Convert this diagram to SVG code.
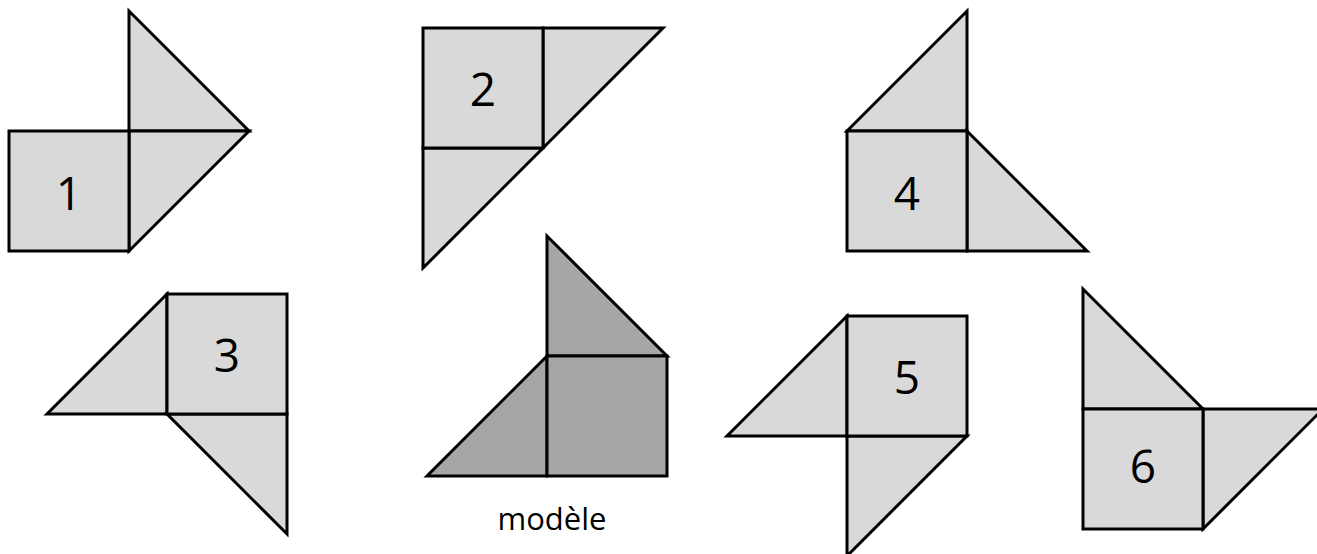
<svg xmlns="http://www.w3.org/2000/svg" width="1317" height="554" viewBox="0 0 1317 554">
<style>
.p{fill:#d9d9d9;stroke:#000;stroke-width:3;stroke-linejoin:miter}
.m{fill:#a6a6a6;stroke:#000;stroke-width:3;stroke-linejoin:miter}
.n{font-family:"Open Sans","Liberation Sans",sans-serif;font-size:46px;text-anchor:middle;fill:#000}
.t{font-family:"Open Sans","Liberation Sans",sans-serif;font-size:31px;text-anchor:middle;fill:#000}
</style>
<rect width="1317" height="554" fill="#fff"/>
<g id="shape1">
<polygon class="p" points="129,11 129,131 249,131"/>
<polygon class="p" points="129,131 249,131 129,251"/>
<rect class="p" x="9" y="131" width="120" height="120"/>
<text class="n" x="69" y="210">1</text>
</g>
<g id="shape2">
<polygon class="p" points="543,28 663,28 543,148"/>
<polygon class="p" points="423,148 543,148 423,268"/>
<rect class="p" x="423" y="28" width="120" height="120"/>
<text class="n" x="483" y="106">2</text>
</g>
<g id="shape3">
<polygon class="p" points="167,294 47,414 167,414"/>
<polygon class="p" points="167,414 287,414 287,534"/>
<rect class="p" x="167" y="294" width="120" height="120"/>
<text class="n" x="227" y="372">3</text>
</g>
<g id="shape4">
<polygon class="p" points="847,131 967,11 967,131"/>
<polygon class="p" points="967,131 1087,251 967,251"/>
<rect class="p" x="847" y="131" width="120" height="120"/>
<text class="n" x="907" y="210">4</text>
</g>
<g id="model">
<polygon class="m" points="547,236 547,356 667,356"/>
<polygon class="m" points="547,356 427,476 547,476"/>
<rect class="m" x="547" y="356" width="120" height="120"/>
<text class="t" x="552" y="530">modèle</text>
</g>
<g id="shape5">
<polygon class="p" points="847,316 727,436 847,436"/>
<polygon class="p" points="847,436 967,436 847,556"/>
<rect class="p" x="847" y="316" width="120" height="120"/>
<text class="n" x="907" y="394">5</text>
</g>
<g id="shape6">
<polygon class="p" points="1083,289 1083,409 1203,409"/>
<polygon class="p" points="1203,409 1323,409 1203,529"/>
<rect class="p" x="1083" y="409" width="120" height="120"/>
<text class="n" x="1143" y="483">6</text>
</g>
</svg>
